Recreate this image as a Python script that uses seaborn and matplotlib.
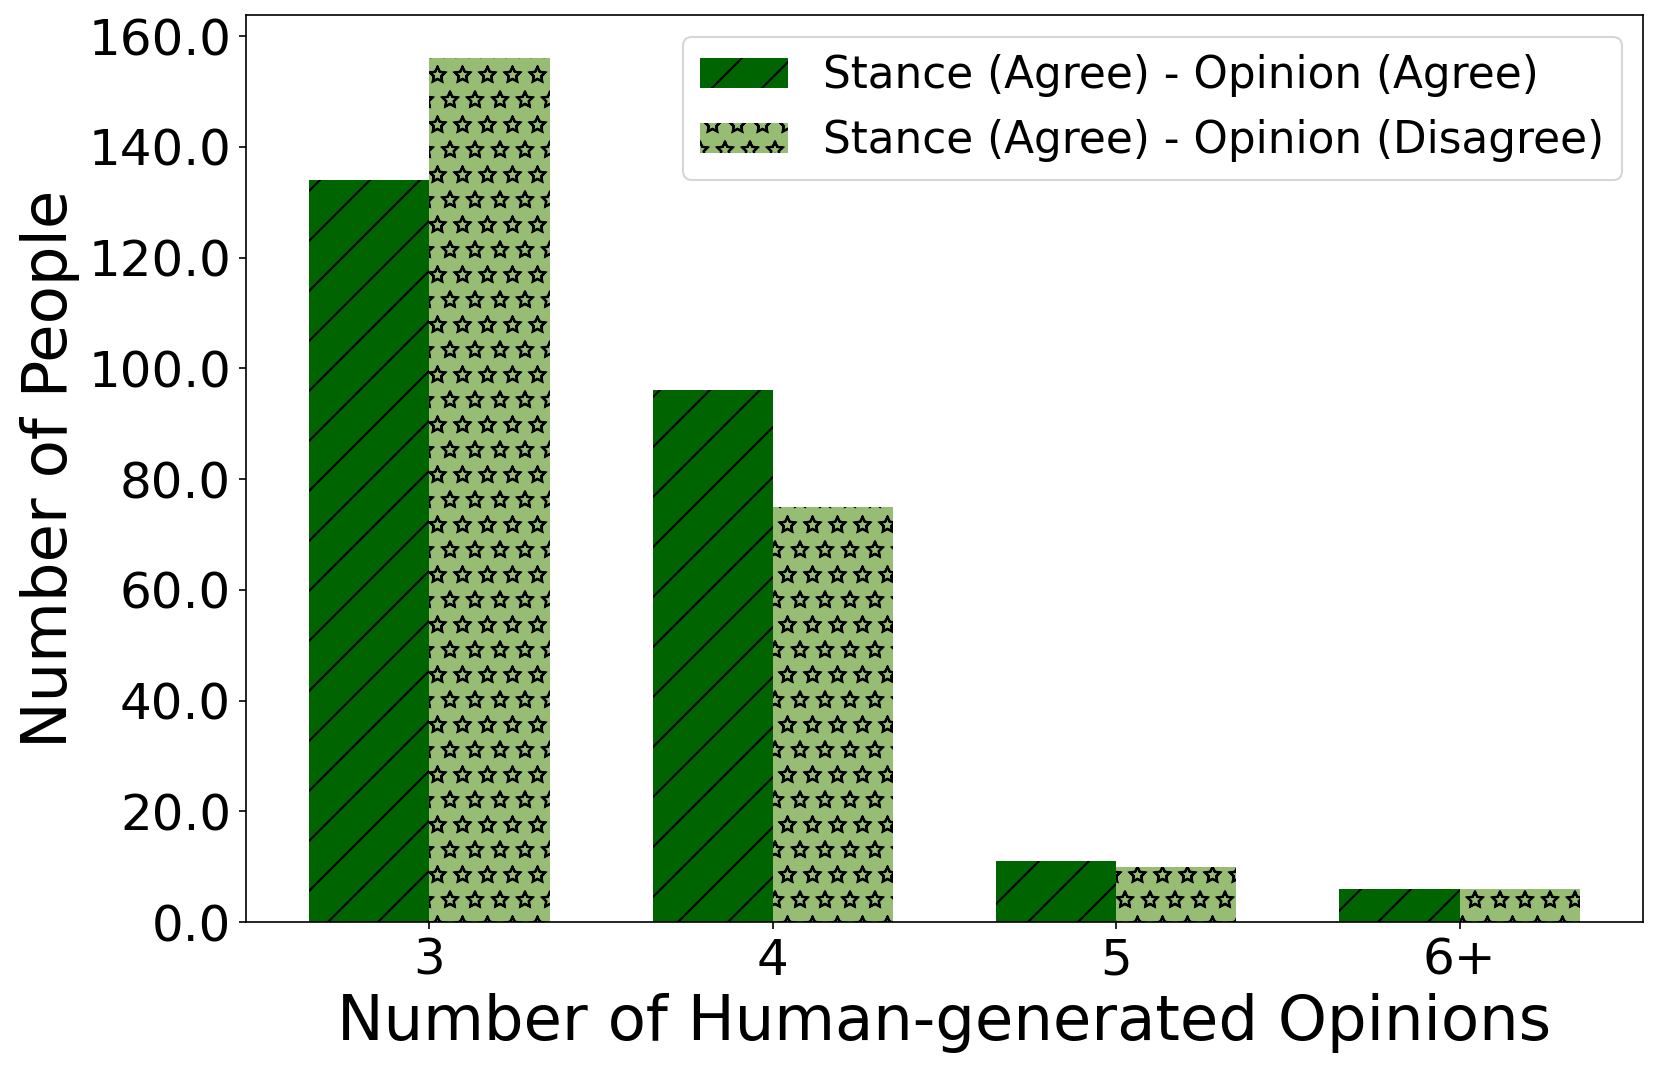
import matplotlib
matplotlib.use("Agg")
import matplotlib.pyplot as plt
import matplotlib.hatch as mhatch
import seaborn as sns
import pandas as pd
from matplotlib.ticker import FormatStrFormatter

# draw '*' hatch stars as outlines (hollow), as in the reference
mhatch.Stars.filled = False

categories = ["3", "4", "5", "6+"]
series_names = ["Stance (Agree) - Opinion (Agree)", "Stance (Agree) - Opinion (Disagree)"]
agree_agree = [134, 96, 11, 6]
agree_disagree = [156, 75, 10, 6]
colors = ["#006400", "#97BC74"]
hatches = ["/", "*"]

df = pd.DataFrame({
    "category": categories * 2,
    "series": [series_names[0]] * 4 + [series_names[1]] * 4,
    "value": agree_agree + agree_disagree,
})

plt.rcParams["font.family"] = ["DejaVu Sans"]
fig = plt.figure(figsize=(1660 / 150, 1071 / 150), dpi=150)
ax = fig.add_axes([0.148, 0.139, 0.842, 0.847])

sns.barplot(data=df, x="category", y="value", hue="series", order=categories,
            hue_order=series_names, palette=colors, width=0.7, saturation=1,
            errorbar=None, legend=False, ax=ax)

for cont, h in zip(ax.containers, hatches):
    for p in cont.patches:
        p.set_hatch(h)
        p.set_edgecolor("black")
        p.set_linewidth(0)

ax.set_xlim(-0.535, 3.535)
ax.set_ylim(0, 163.8)
ax.yaxis.set_major_formatter(FormatStrFormatter("%.1f"))
ax.tick_params(axis="both", labelsize=24)
ax.set_xlabel("Number of Human-generated Opinions", fontsize=30)
ax.set_ylabel("Number of People", fontsize=30)
for s in ax.spines.values():
    s.set_visible(True)
    s.set_color("black")

ax.legend(handles=list(ax.containers), labels=series_names, loc="upper right", fontsize=21)

fig.savefig("out.png", dpi=150)
